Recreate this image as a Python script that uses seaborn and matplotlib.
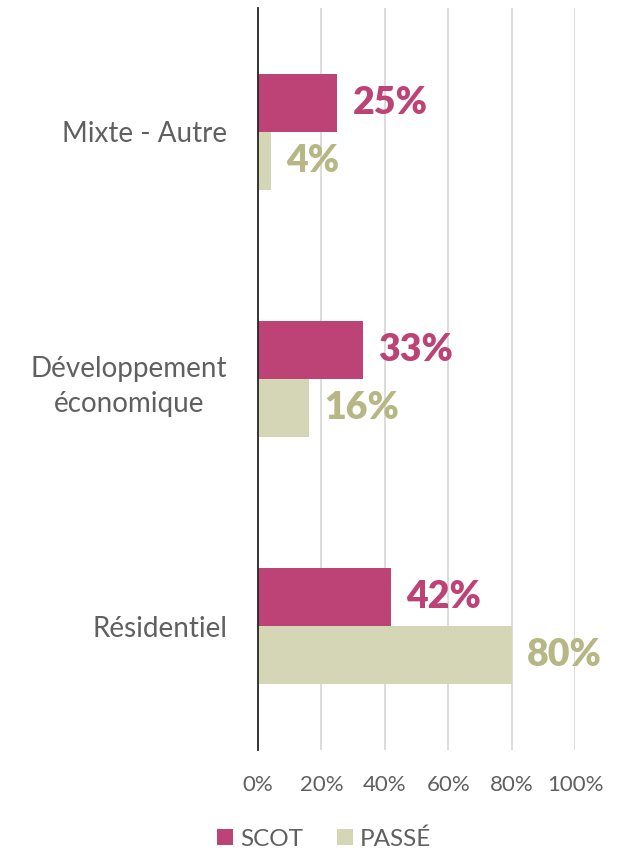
import pandas as pd
import numpy as np
import seaborn as sns
import matplotlib.pyplot as plt
from matplotlib.patches import Patch

# data
categories = ['Mixte - Autre', 'Développement\néconomique', 'Résidentiel']
scot = [25, 33, 42]
passe = [4, 16, 80]
series = ['SCOT', 'PASSÉ']
ticks = [0, 20, 40, 60, 80, 100]

colors = {'SCOT': '#BD4377', 'PASSÉ': '#D5D6B6'}
label_colors = {'SCOT': '#BD4377', 'PASSÉ': '#B7B785'}

df = pd.DataFrame({
    'cat': categories * 2,
    'val': scot + passe,
    'serie': ['SCOT'] * 3 + ['PASSÉ'] * 3,
})

sns.set_style('white')
plt.rcParams['font.family'] = ['Lato', 'DejaVu Sans']

fig = plt.figure(figsize=(6.23, 8.51), dpi=100)
ax = fig.add_axes([258 / 623, 1 - 750 / 851, (575 - 258) / 623, (750 - 8) / 851])

sns.barplot(data=df, x='val', y='cat', hue='serie', hue_order=series,
            palette=colors, orient='h', width=0.47, ax=ax, legend=False,
            saturation=1, edgecolor='none')

ax.set_xlim(0, 100)
ax.set_ylim(2.5, -0.5)
ax.set_xticks(ticks)
ax.set_xticklabels([f'{t}%' for t in ticks], fontsize=16, color='#606060')
ax.tick_params(axis='x', length=0, pad=18)
for lab in ax.get_yticklabels():
    lab.set_fontsize(20)
    lab.set_color('#606060')
    lab.set_horizontalalignment('right')
    lab.set_multialignment('center')
    lab.set_linespacing(1.45)
ax.tick_params(axis='y', length=0, pad=22)
ax.set_xlabel('')
ax.set_ylabel('')
ax.grid(axis='x', color='#D9D9D9', linewidth=1.3)
ax.set_axisbelow(True)
for s in ['top', 'right', 'bottom']:
    ax.spines[s].set_visible(False)
ax.spines['left'].set_color('#262626')
ax.spines['left'].set_linewidth(1.3)

# value labels
for container, name in zip(ax.containers, series):
    for bar in container:
        w = bar.get_width()
        y = bar.get_y() + bar.get_height() / 2
        ax.annotate(f'{w:.0f}%', (w, y), xytext=(11, 0), textcoords='offset points',
                    va='center', ha='left', fontsize=27, fontweight='heavy',
                    color=label_colors[name])

handles = [Patch(facecolor=colors[s], edgecolor='none', label=s) for s in series]
fig.legend(handles=handles, loc='lower center', bbox_to_anchor=(0.52, -0.024),
           ncol=2, frameon=False, handlelength=0.65, handleheight=0.65,
           handletextpad=0.3, columnspacing=1.4, labelcolor='#606060',
           prop={'size': 17.5})

fig.savefig('out.png', dpi=100)
